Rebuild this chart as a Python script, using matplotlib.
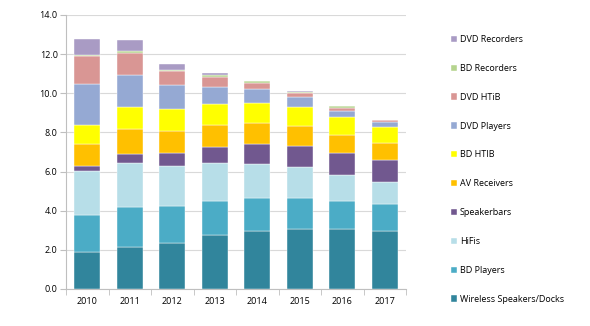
import matplotlib.pyplot as plt
import numpy as np

years = ['2010', '2011', '2012', '2013', '2014', '2015', '2016', '2017']

# stacked bottom to top
wireless = [1.90, 2.13, 2.35, 2.76, 2.98, 3.07, 3.07, 2.98]
bd_players = [1.88, 2.04, 1.91, 1.75, 1.69, 1.60, 1.41, 1.35]
hifis = [2.25, 2.27, 2.02, 1.91, 1.72, 1.56, 1.36, 1.15]
speakerbars = [0.25, 0.48, 0.69, 0.85, 1.02, 1.09, 1.11, 1.11]
av_receivers = [1.14, 1.26, 1.10, 1.11, 1.09, 1.01, 0.93, 0.87]
bd_htib = [0.94, 1.12, 1.14, 1.09, 1.02, 0.97, 0.89, 0.80]
dvd_players = [2.10, 1.65, 1.21, 0.85, 0.70, 0.50, 0.34, 0.27]
dvd_htib = [1.44, 1.12, 0.70, 0.51, 0.31, 0.22, 0.15, 0.09]
bd_recorders = [0.07, 0.09, 0.08, 0.10, 0.08, 0.06, 0.07, 0.02]
dvd_recorders = [0.80, 0.56, 0.28, 0.09, 0.04, 0.03, 0.02, 0.02]

series = [
    ('Wireless Speakers/Docks', wireless, '#31859C'),
    ('BD Players', bd_players, '#4BACC6'),
    ('HiFis', hifis, '#B7DEE8'),
    ('Speakerbars', speakerbars, '#71588F'),
    ('AV Receivers', av_receivers, '#FFC000'),
    ('BD HTIB', bd_htib, '#FFFF00'),
    ('DVD Players', dvd_players, '#95A9D3'),
    ('DVD HTiB', dvd_htib, '#D99694'),
    ('BD Recorders', bd_recorders, '#B5D48E'),
    ('DVD Recorders', dvd_recorders, '#A99BC4'),
]

plt.rcParams['font.family'] = ['Open Sans', 'DejaVu Sans']

fig = plt.figure(figsize=(5.9, 3.26), dpi=100)
ax = fig.add_axes([66 / 590, 1 - 289 / 326, 340 / 590, 274 / 326])

x = np.arange(len(years))
bottom = np.zeros(len(years))
handles = []
for label, vals, color in series:
    b = ax.bar(x, vals, width=0.61, bottom=bottom, color=color,
               edgecolor='white', linewidth=0.3, label=label, zorder=3)
    handles.append(b)
    bottom += np.array(vals)

ax.set_xlim(-0.5, len(years) - 0.5)
ax.set_ylim(0, 14)
ax.set_yticks(np.arange(0, 14.1, 2))
ax.set_yticklabels(['%.1f' % v for v in np.arange(0, 14.1, 2)])
ax.set_xticks(x)
ax.set_xticklabels(years)
ax.set_xticks(np.arange(-0.5, len(years), 1), minor=True)
ax.tick_params(axis='x', which='major', length=0, labelsize=6.5, pad=6)
ax.tick_params(axis='x', which='minor', length=4, color='#BFBFBF')
ax.tick_params(axis='y', length=4, color='#BFBFBF', labelsize=6.5, pad=2)

ax.grid(axis='y', color='#D9D9D9', linewidth=0.8, zorder=0)
for s in ['top', 'right']:
    ax.spines[s].set_visible(False)
for s in ['left', 'bottom']:
    ax.spines[s].set_color('#BFBFBF')
    ax.spines[s].set_linewidth(0.8)

fig.legend(handles[::-1], [s[0] for s in series][::-1],
           loc='upper left', bbox_to_anchor=(451 / 590, 1 - 35 / 326),
           frameon=False, fontsize=6.5, handlelength=0.7, handleheight=0.7,
           handletextpad=0.3, labelspacing=2.2, borderpad=0, borderaxespad=0)

fig.savefig('out.png', dpi=100)
